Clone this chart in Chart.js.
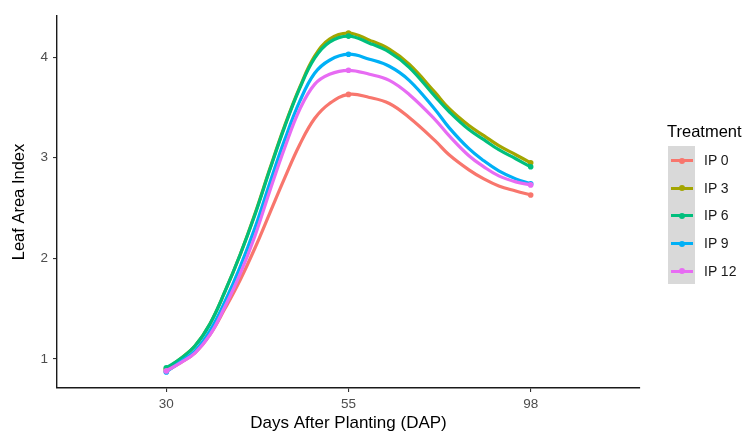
<!DOCTYPE html>
<html>
<head>
<meta charset="utf-8">
<script src="https://cdn.jsdelivr.net/npm/chart.js@4.4.1/dist/chart.umd.min.js"></script>
<style>
  html, body { margin: 0; padding: 0; background: #ffffff; }
  #wrap { position: relative; width: 749px; height: 432px; font-family: "Liberation Sans", Arial, sans-serif; }
  #c { position: absolute; left: 0; top: 0; }
  #legend { position: absolute; left: 667px; top: 120px; }
  #legend .title { font-size: 16.5px; color: #000; line-height: 22px; margin-left: 0px; }
  #legend .box { position: absolute; left: 1px; top: 26px; width: 27px; height: 138px; background: #d9d9d9; }
  #legend .item { position: absolute; left: 0; height: 20px; }
  #legend .key { position: absolute; left: 4px; top: 9px; width: 22px; height: 3px; }
  #legend .dot { position: absolute; left: 12px; top: 7.5px; width: 6px; height: 6px; border-radius: 50%; }
  #legend .lab { position: absolute; left: 37px; top: 2px; font-size: 14px; color: #1a1a1a; white-space: nowrap; }
</style>
</head>
<body>
<div id="wrap">
  <canvas id="c" width="749" height="432"></canvas>
  <div id="legend"></div>
</div>
<script>
// Tick labels on the x axis (equally spaced sampling dates)
const dapLabels = ['30', '55', '98'];
const yTicks = [1, 2, 3, 4];
const seriesNames = ['IP 0', 'IP 3', 'IP 6', 'IP 9', 'IP 12'];
const seriesColors = ['#F8766D', '#A3A500', '#00BF7D', '#00B0F6', '#E76BF3'];

// Positions along the x axis (1 = 30 DAP, 2 = 55 DAP, 3 = 98 DAP) where the smoothed curves were read
const curvePos = [1, 1.077, 1.158, 1.240, 1.322, 1.404, 1.486, 1.568, 1.650, 1.732, 1.814, 1.896, 2, 2.115, 2.224, 2.333, 2.475, 2.552, 2.661, 2.743, 2.825, 2.918, 3];

// Leaf Area Index
const ip0  = [0.88, 0.96, 1.06, 1.24, 1.50, 1.78, 2.10, 2.45, 2.80, 3.13, 3.39, 3.54, 3.63, 3.60, 3.54, 3.40, 3.17, 3.03, 2.88, 2.79, 2.72, 2.67, 2.63];
const ip3  = [0.90, 1.00, 1.13, 1.35, 1.67, 2.03, 2.44, 2.89, 3.32, 3.70, 4.01, 4.18, 4.24, 4.17, 4.08, 3.93, 3.65, 3.49, 3.32, 3.22, 3.12, 3.03, 2.95];
const ip6  = [0.91, 1.00, 1.13, 1.35, 1.67, 2.03, 2.43, 2.88, 3.31, 3.69, 3.99, 4.15, 4.21, 4.14, 4.05, 3.90, 3.61, 3.46, 3.28, 3.18, 3.08, 2.99, 2.91];
const ip9  = [0.87, 0.97, 1.08, 1.28, 1.57, 1.91, 2.30, 2.75, 3.18, 3.56, 3.84, 3.97, 4.03, 3.98, 3.91, 3.77, 3.48, 3.30, 3.09, 2.97, 2.87, 2.79, 2.74];
const ip12 = [0.88, 0.96, 1.06, 1.24, 1.52, 1.84, 2.22, 2.67, 3.10, 3.48, 3.73, 3.83, 3.87, 3.83, 3.77, 3.63, 3.38, 3.22, 3.02, 2.91, 2.82, 2.76, 2.73];

const allSeries = [ip0, ip3, ip6, ip9, ip12];

const datasets = allSeries.map((vals, i) => ({
  label: seriesNames[i],
  data: curvePos.map((x, j) => ({ x: x, y: vals[j] })),
  borderColor: seriesColors[i],
  backgroundColor: seriesColors[i],
  borderWidth: 3.2,
  tension: 0.4,
  pointRadius: ctx => (ctx.raw && Number.isInteger(ctx.raw.x)) ? 2.8 : 0,
  pointBorderWidth: 0,
  pointHoverRadius: 0,
  order: allSeries.length - i,
  fill: false
}));

const FONT = '"Liberation Sans", Arial, sans-serif';

new Chart(document.getElementById('c'), {
  type: 'line',
  data: { datasets: datasets },
  options: {
    responsive: false,
    animation: false,
    devicePixelRatio: 1,
    layout: { padding: { top: 16, right: 109, left: 0, bottom: 0 } },
    plugins: { legend: { display: false }, tooltip: { enabled: false } },
    scales: {
      x: {
        type: 'linear',
        min: 0.4,
        max: 3.6,
        afterBuildTicks: s => { s.ticks = dapLabels.map((_, i) => ({ value: i + 1 })); },
        afterFit: s => { s.height = 44; },
        ticks: {
          callback: (v) => dapLabels[Math.round(v) - 1],
          color: '#4d4d4d',
          font: { family: FONT, size: 13.5 },
          padding: 4,
          maxRotation: 0,
          autoSkip: false
        },
        grid: { drawOnChartArea: false, drawTicks: true, tickLength: 4, color: '#333333', lineWidth: 1.1 },
        border: { display: true, color: '#1a1a1a', width: 1.4 },
        title: {
          display: true,
          text: 'Days After Planting (DAP)',
          color: '#000000',
          font: { family: FONT, size: 17, lineHeight: 1 },
          padding: { top: 0, bottom: 0 }
        }
      },
      y: {
        type: 'linear',
        min: 0.71,
        max: 4.41,
        afterBuildTicks: s => { s.ticks = yTicks.map(v => ({ value: v })); },
        afterFit: s => { s.width = 57; },
        ticks: {
          color: '#4d4d4d',
          font: { family: FONT, size: 13.5 },
          padding: 5,
          callback: v => String(v)
        },
        grid: { drawOnChartArea: false, drawTicks: true, tickLength: 4, color: '#333333', lineWidth: 1.1 },
        border: { display: true, color: '#1a1a1a', width: 1.4 },
        title: {
          display: true,
          text: 'Leaf Area Index',
          color: '#000000',
          font: { family: FONT, size: 16.5, lineHeight: 1 },
          padding: { top: 11, bottom: 0 }
        }
      }
    }
  }
});

// Legend (ggplot style)
const lg = document.getElementById('legend');
let html = '<div class="title">Treatment</div><div class="box"></div>';
seriesNames.forEach((name, i) => {
  const top = 30 + i * 27.7;
  html += '<div class="item" style="top:' + top + 'px">' +
          '<div class="key" style="background:' + seriesColors[i] + '"></div>' +
          '<div class="dot" style="background:' + seriesColors[i] + '"></div>' +
          '<div class="lab">' + name + '</div></div>';
});
lg.innerHTML = html;
</script>
</body>
</html>
